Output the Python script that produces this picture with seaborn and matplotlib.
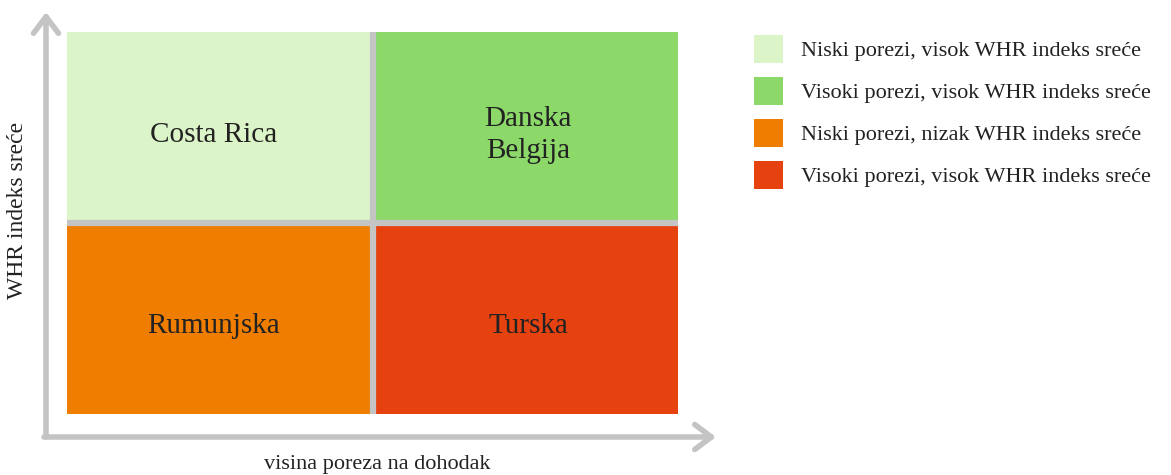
import numpy as np
import matplotlib
matplotlib.use("Agg")
import matplotlib.pyplot as plt
from matplotlib.colors import ListedColormap
from matplotlib.patches import Patch, FancyArrowPatch
import seaborn as sns

# podaci kvadranata (redovi: visok / nizak WHR, stupci: niski / visoki porezi)
quadrant_codes = [[0, 1], [2, 3]]
quadrant_labels = [["Costa Rica", "Danska\nBelgija"], ["Rumunjska", "Turska"]]
legend_labels = [
    "Niski porezi, visok WHR indeks sreće",
    "Visoki porezi, visok WHR indeks sreće",
    "Niski porezi, nizak WHR indeks sreće",
    "Visoki porezi, visok WHR indeks sreće",
]
colors = ["#dcf5c8", "#8cd96a", "#ee7d00", "#e5420f"]
x_label = "visina poreza na dohodak"
y_label = "WHR indeks sreće"

sns.set_style("white")
plt.rcParams["font.family"] = ["Liberation Serif", "DejaVu Serif"]

W, H = 1171, 475
fig = plt.figure(figsize=(W / 100, H / 100), dpi=100)
ax = fig.add_axes([67 / W, 1 - 414 / H, (678 - 67) / W, (414 - 32) / H])

sns.heatmap(np.array(quadrant_codes), ax=ax, cmap=ListedColormap(colors),
            vmin=-0.5, vmax=3.5, cbar=False, linewidths=0,
            annot=np.array(quadrant_labels, dtype=object), fmt="",
            annot_kws={"fontsize": 21, "color": "#222222", "linespacing": 1.3})

# tekst u kvadrantima malo nize, kao u originalu
for t in ax.texts:
    x, y = t.get_position()
    t.set_position((x - 0.02 if x < 1 else x + 0.01, y + 0.04))

# sive linije izmedu kvadranata
ax.axvline(1, color="#c4c4c4", lw=4.5)
ax.axhline(1, color="#c4c4c4", lw=4.5)
ax.set_xticks([])
ax.set_yticks([])
ax.set_xlabel("")
ax.set_ylabel("")
for s in ax.spines.values():
    s.set_visible(False)

# strelice osi
arrow_kw = dict(arrowstyle="->,head_length=0.6,head_width=0.45", color="#c4c4c4",
                lw=4, mutation_scale=20, transform=None, shrinkA=0, shrinkB=0)
fig.patches.append(FancyArrowPatch((46, H - 437), (46, H - 12), **arrow_kw))
fig.patches.append(FancyArrowPatch((44, H - 437), (716, H - 437), **arrow_kw))

fig.text(377 / W, 1 - 464 / H, x_label, ha="center", va="center", fontsize=16, color="#222222")
fig.text(18 / W, 1 - 210 / H, y_label, ha="center", va="center", rotation=90,
         fontsize=17, color="#222222")

handles = [Patch(facecolor=c, edgecolor="none") for c in colors]
fig.legend(handles, legend_labels, loc="upper left", bbox_to_anchor=(745 / W, 1 - 26 / H),
           frameon=False, fontsize=16, handlelength=1.3, handleheight=1.55,
           labelspacing=0.64, handletextpad=0.8, borderaxespad=0, labelcolor="#222222")

fig.savefig("out.png", dpi=100)
